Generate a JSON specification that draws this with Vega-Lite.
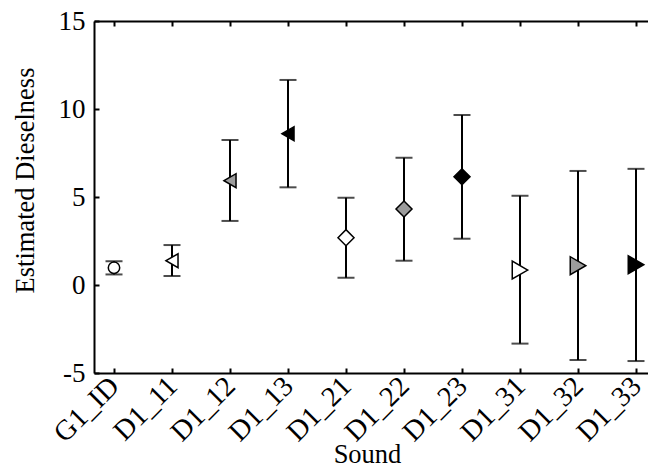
{
  "$schema": "https://vega.github.io/schema/vega-lite/v6.json",
  "autosize": {"type": "none"},
  "padding": {"left": 94, "top": 21, "right": 0, "bottom": 95},
  "width": 554,
  "height": 352,
  "background": "white",
  "config": {
    "view": {"stroke": null},
    "axis": {
      "font": "Liberation Serif",
      "labelFont": "Liberation Serif",
      "titleFont": "Liberation Serif",
      "labelColor": "black",
      "titleColor": "black",
      "domainColor": "black",
      "tickColor": "black",
      "domainWidth": 2,
      "tickWidth": 2,
      "grid": false,
      "labelFontSize": 27,
      "titleFontSize": 26.5,
      "titleFontWeight": "normal"
    }
  },
  "data": {
    "values": [
      {"sound": "G1_ID", "family": "G1", "level": "ref", "mean": 0.98, "lo": 0.6, "hi": 1.35},
      {"sound": "D1_11", "family": "D1_1", "level": "1", "mean": 1.38, "lo": 0.51, "hi": 2.27},
      {"sound": "D1_12", "family": "D1_1", "level": "2", "mean": 5.93, "lo": 3.64, "hi": 8.24},
      {"sound": "D1_13", "family": "D1_1", "level": "3", "mean": 8.6, "lo": 5.55, "hi": 11.65},
      {"sound": "D1_21", "family": "D1_2", "level": "1", "mean": 2.69, "lo": 0.41, "hi": 4.96},
      {"sound": "D1_22", "family": "D1_2", "level": "2", "mean": 4.32, "lo": 1.38, "hi": 7.23},
      {"sound": "D1_23", "family": "D1_2", "level": "3", "mean": 6.15, "lo": 2.63, "hi": 9.66},
      {"sound": "D1_31", "family": "D1_3", "level": "1", "mean": 0.85, "lo": -3.33, "hi": 5.07},
      {"sound": "D1_32", "family": "D1_3", "level": "2", "mean": 1.1, "lo": -4.26, "hi": 6.48},
      {"sound": "D1_33", "family": "D1_3", "level": "3", "mean": 1.15, "lo": -4.32, "hi": 6.6}
    ]
  },
  "resolve": {"axis": {"x": "independent"}},
  "layer": [
    {
      "mark": {"type": "rule", "color": "black", "strokeWidth": 2},
      "encoding": {
        "x": {
          "field": "sound", "type": "nominal", "sort": null,
          "scale": {"type": "point", "padding": 0.2759, "align": 0.625, "round": false},
          "axis": {
            "orient": "bottom",
            "title": "Sound",
            "labelAngle": -45,
            "labelAlign": "right",
            "labelBaseline": "middle",
            "labelFontSize": 28.5,
            "tickSize": -5,
            "labelPadding": 13,
            "titleX": 273,
            "titleY": 89,
            "titleBaseline": "alphabetic",
            "titleAnchor": "middle",
            "titleAlign": "center"
          }
        },
        "y": {
          "field": "lo", "type": "quantitative",
          "scale": {"domain": [-5, 15], "nice": false, "zero": false},
          "axis": {
            "title": "Estimated Dieselness",
            "values": [-5, 0, 5, 10, 15],
            "labelExpr": "replace(datum.label, '\u2212', '-')",
            "tickSize": -5,
            "labelPadding": 14,
            "titleX": -61,
            "titleY": 159,
            "titleBaseline": "alphabetic",
            "titleAngle": -90,
            "titleAlign": "center"
          }
        },
        "y2": {"field": "hi"}
      }
    },
    {
      "mark": {"type": "tick", "color": "black", "thickness": 2, "size": 17, "orient": "horizontal"},
      "encoding": {
        "x": {
          "field": "sound", "type": "nominal", "sort": null,
          "axis": {
            "orient": "top",
            "labels": false,
            "title": null,
            "tickSize": -5
          }
        },
        "y": {"field": "lo", "type": "quantitative"}
      }
    },
    {
      "mark": {"type": "tick", "color": "black", "thickness": 2, "size": 17, "orient": "horizontal"},
      "encoding": {
        "x": {"field": "sound", "type": "nominal", "sort": null, "axis": null},
        "y": {"field": "hi", "type": "quantitative"}
      }
    },
    {
      "mark": {"type": "point", "filled": true, "stroke": "black", "strokeWidth": 1.5, "opacity": 1},
      "encoding": {
        "x": {"field": "sound", "type": "nominal", "sort": null, "axis": null},
        "y": {"field": "mean", "type": "quantitative"},
        "shape": {
          "field": "family", "type": "nominal", "legend": null,
          "scale": {"domain": ["G1", "D1_1", "D1_2", "D1_3"], "range": ["circle", "triangle-left", "diamond", "triangle-right"]}
        },
        "fill": {
          "field": "level", "type": "nominal", "legend": null,
          "scale": {"domain": ["ref", "1", "2", "3"], "range": ["white", "white", "#9c9c9c", "black"]}
        },
        "size": {
          "field": "family", "type": "nominal", "legend": null,
          "scale": {"domain": ["G1", "D1_1", "D1_2", "D1_3"], "range": [130, 320, 300, 320]}
        }
      }
    }
  ]
}
